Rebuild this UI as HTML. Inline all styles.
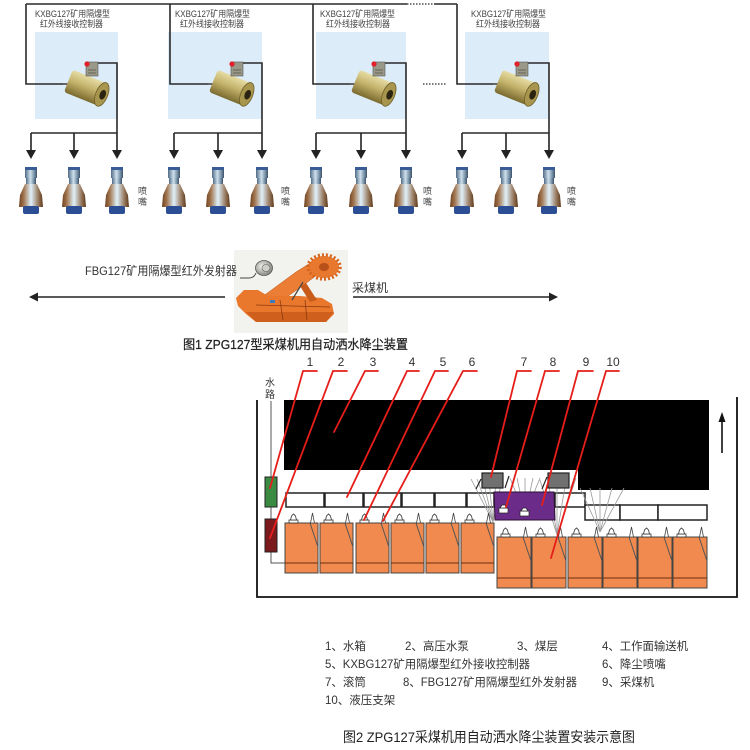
<!DOCTYPE html>
<html>
<head>
<meta charset="utf-8">
<style>
  html,body{margin:0;padding:0;background:#fff;}
  svg{display:block;}
  text{font-family:"Liberation Sans","Noto Sans CJK SC",sans-serif;}
</style>
</head>
<body>
<svg width="750" height="750" viewBox="0 0 750 750" xmlns="http://www.w3.org/2000/svg">
<defs>
  <linearGradient id="gb" x1="0" x2="1" y1="0" y2="0">
    <stop offset="0" stop-color="#4f6b84"/>
    <stop offset="0.45" stop-color="#cfe0ee"/>
    <stop offset="0.75" stop-color="#7d97ad"/>
    <stop offset="1" stop-color="#3c5268"/>
  </linearGradient>
  <linearGradient id="gbody" x1="0" x2="1" y1="0" y2="0">
    <stop offset="0" stop-color="#6e4220"/>
    <stop offset="0.2" stop-color="#a27650"/>
    <stop offset="0.5" stop-color="#dff1fb"/>
    <stop offset="0.8" stop-color="#9a7c62"/>
    <stop offset="1" stop-color="#5e3818"/>
  </linearGradient>
  <linearGradient id="gk" x1="0" x2="0" y1="0" y2="1">
    <stop offset="0" stop-color="#e6dca4"/>
    <stop offset="0.45" stop-color="#c4b36c"/>
    <stop offset="1" stop-color="#7a6a2e"/>
  </linearGradient>
  <radialGradient id="gem" cx="0.4" cy="0.4" r="0.6">
    <stop offset="0" stop-color="#f4f4f0"/>
    <stop offset="1" stop-color="#8a8a84"/>
  </radialGradient>

  <g id="nz">
    <rect x="-6" y="0" width="12" height="4" fill="#3a5c96"/>
    <rect x="-6" y="3" width="12" height="8" fill="url(#gb)"/>
    <rect x="-5" y="11" width="10" height="6" fill="url(#gb)"/>
    <path d="M-6 17 L6 17 L11 28 L12 40 L-12 40 L-11 28 Z" fill="url(#gbody)"/>
    <rect x="-8" y="39" width="16" height="8" rx="2" fill="#2c4e94"/>
  </g>

  <g id="dev">
    <line x1="0" y1="0" x2="6" y2="0" stroke="#666" stroke-width="2"/>
    <g transform="translate(23,4) rotate(22)">
      <rect x="-19" y="-12" width="36" height="24" rx="3" fill="url(#gk)"/>
      <ellipse cx="17" cy="0" rx="6" ry="12.5" fill="#a8954e" stroke="#6e5f28" stroke-width="0.8"/>
      <ellipse cx="18" cy="0" rx="3" ry="5" fill="#2a2410"/>
    </g>
    <rect x="23" y="-22" width="12" height="14" fill="#9a9888" stroke="#555" stroke-width="0.6"/>
    <line x1="25" y1="-14" x2="33" y2="-14" stroke="#5a584a" stroke-width="0.8"/>
    <line x1="25" y1="-11" x2="33" y2="-11" stroke="#5a584a" stroke-width="0.8"/>
    <circle cx="24" cy="-20" r="2.6" fill="#e0202a"/>
  </g>

  <g id="arr">
    <line x1="0" y1="133" x2="0" y2="151" stroke="#222" stroke-width="1.6"/>
    <polygon points="-5,150 5,150 0,159" fill="#222"/>
  </g>

  <g id="supL">
    <rect x="0" y="0" width="33" height="50" fill="#f08a4e" stroke="#444" stroke-width="1"/>
    <line x1="0" y1="40" x2="33" y2="40" stroke="#6a3010" stroke-width="1"/>
    <path d="M25 0 L33 24" fill="none" stroke="#555" stroke-width="1"/>
    <rect x="4" y="-3" width="9" height="3" fill="#fff" stroke="#333" stroke-width="0.8"/>
    <path d="M5.5 -3 L6.5 -7 L8.5 -9 L10.5 -7 L11.5 -3 Z" fill="#fff" stroke="#333" stroke-width="0.8"/>
    <path d="M25.5 0 L27.5 -10 L29.5 0 Z" fill="#fff" stroke="#444" stroke-width="0.8"/>
  </g>
  <g id="supR">
    <rect x="0" y="0" width="34" height="51" fill="#f08a4e" stroke="#444" stroke-width="1"/>
    <line x1="0" y1="41" x2="34" y2="41" stroke="#6a3010" stroke-width="1"/>
    <path d="M26 0 L34 24" fill="none" stroke="#555" stroke-width="1"/>
    <rect x="4" y="-3" width="9" height="3" fill="#fff" stroke="#333" stroke-width="0.8"/>
    <path d="M5.5 -3 L6.5 -7 L8.5 -9 L10.5 -7 L11.5 -3 Z" fill="#fff" stroke="#333" stroke-width="0.8"/>
    <path d="M26.5 0 L28.5 -10 L30.5 0 Z" fill="#fff" stroke="#444" stroke-width="0.8"/>
  </g>
</defs>

<!-- ================= TOP DIAGRAM ================= -->
<g stroke="#2a2a2a" stroke-width="1.6" fill="none">
  <line x1="26" y1="4" x2="407" y2="4"/>
  <line x1="407" y1="4" x2="434" y2="4" stroke-dasharray="1.5 1.5" stroke-width="1.2"/>
  <line x1="434" y1="4" x2="457" y2="4"/>
  <line x1="423" y1="84" x2="446" y2="84" stroke-dasharray="1.5 1.5" stroke-width="1.2"/>
</g>

<!-- panels -->
<rect x="35" y="32" width="83" height="87" fill="#dcedf9"/>
<rect x="168" y="32" width="94" height="87" fill="#dcedf9"/>
<rect x="316" y="32" width="90" height="87" fill="#dcedf9"/>
<rect x="465" y="32" width="84" height="87" fill="#dcedf9"/>

<!-- labels -->
<g fill="#444" font-size="9">
  <text x="35" y="17" textLength="75" lengthAdjust="spacingAndGlyphs">KXBG127矿用隔爆型</text>
  <text x="40" y="27" textLength="63" lengthAdjust="spacingAndGlyphs">红外线接收控制器</text>
  <text x="175" y="17" textLength="75" lengthAdjust="spacingAndGlyphs">KXBG127矿用隔爆型</text>
  <text x="180" y="27" textLength="64" lengthAdjust="spacingAndGlyphs">红外线接收控制器</text>
  <text x="320" y="17" textLength="75" lengthAdjust="spacingAndGlyphs">KXBG127矿用隔爆型</text>
  <text x="326" y="27" textLength="64" lengthAdjust="spacingAndGlyphs">红外线接收控制器</text>
  <text x="471" y="17" textLength="75" lengthAdjust="spacingAndGlyphs">KXBG127矿用隔爆型</text>
  <text x="476" y="27" textLength="64" lengthAdjust="spacingAndGlyphs">红外线接收控制器</text>
</g>

<!-- wiring -->
<g stroke="#2a2a2a" stroke-width="1.6" fill="none">
  <polyline points="26,4 26,84 63,84"/>
  <polyline points="98,63 117,63 117,133"/>
  <line x1="31" y1="133" x2="117" y2="133"/>
  <polyline points="170,4 170,84 208,84"/>
  <polyline points="243,63 262,63 262,133"/>
  <line x1="174" y1="133" x2="262" y2="133"/>
  <polyline points="313,4 313,84 350,84"/>
  <polyline points="385,63 406,63 406,133"/>
  <line x1="316" y1="133" x2="406" y2="133"/>
  <polyline points="457,4 457,84 493,84"/>
  <polyline points="528,63 549,63 549,133"/>
  <line x1="462" y1="133" x2="549" y2="133"/>
</g>

<!-- devices -->
<use href="#dev" transform="translate(63,84)"/>
<use href="#dev" transform="translate(208,84)"/>
<use href="#dev" transform="translate(350,84)"/>
<use href="#dev" transform="translate(493,84)"/>

<!-- arrows -->
<use href="#arr" transform="translate(31,0)"/>
<use href="#arr" transform="translate(74,0)"/>
<use href="#arr" transform="translate(117,0)"/>
<use href="#arr" transform="translate(174,0)"/>
<use href="#arr" transform="translate(218,0)"/>
<use href="#arr" transform="translate(262,0)"/>
<use href="#arr" transform="translate(316,0)"/>
<use href="#arr" transform="translate(361,0)"/>
<use href="#arr" transform="translate(406,0)"/>
<use href="#arr" transform="translate(462,0)"/>
<use href="#arr" transform="translate(506,0)"/>
<use href="#arr" transform="translate(549,0)"/>

<!-- nozzles -->
<use href="#nz" transform="translate(31,167)"/>
<use href="#nz" transform="translate(74,167)"/>
<use href="#nz" transform="translate(117,167)"/>
<use href="#nz" transform="translate(174,167)"/>
<use href="#nz" transform="translate(218,167)"/>
<use href="#nz" transform="translate(262,167)"/>
<use href="#nz" transform="translate(316,167)"/>
<use href="#nz" transform="translate(361,167)"/>
<use href="#nz" transform="translate(406,167)"/>
<use href="#nz" transform="translate(462,167)"/>
<use href="#nz" transform="translate(506,167)"/>
<use href="#nz" transform="translate(549,167)"/>

<g fill="#444" font-size="9">
  <text x="138" y="194">喷</text><text x="138" y="205">嘴</text>
  <text x="281" y="194">喷</text><text x="281" y="205">嘴</text>
  <text x="423" y="194">喷</text><text x="423" y="205">嘴</text>
  <text x="567" y="194">喷</text><text x="567" y="205">嘴</text>
</g>

<!-- ================= MIDDLE ================= -->
<rect x="234" y="250" width="114" height="83" fill="#f2f2ee"/>

<g stroke="#222" stroke-width="1.6">
  <line x1="36" y1="297" x2="225" y2="297"/>
  <line x1="353" y1="297" x2="551" y2="297"/>
</g>
<polygon points="29,297 38,292.5 38,301.5" fill="#222"/>
<polygon points="558,297 549,292.5 549,301.5" fill="#222"/>

<text x="85" y="275" font-size="12" fill="#333" textLength="152" lengthAdjust="spacingAndGlyphs">FBG127矿用隔爆型红外发射器</text>
<text x="352" y="292" font-size="12" fill="#333">采煤机</text>

<!-- shearer picture -->
<path d="M240 278 L249 278 Q254 278 256 273" fill="none" stroke="#444" stroke-width="1"/>
<ellipse cx="264" cy="268" rx="8.5" ry="7.5" fill="url(#gem)" stroke="#555" stroke-width="0.8"/>
<ellipse cx="266" cy="268" rx="4" ry="3.5" fill="#cfcfc8" stroke="#666" stroke-width="0.6"/>
<g>
  <!-- ranging arm -->
  <polygon points="262,297 296,272 312,262 321,272 305,284 284,299" fill="#ec7d34" stroke="#b85014" stroke-width="0.5"/>
  <!-- drum -->
  <ellipse cx="324" cy="267" rx="15" ry="11" fill="#e8782e"/>
  <ellipse cx="324" cy="267" rx="16" ry="12" fill="none" stroke="#d6651e" stroke-width="3.5" stroke-dasharray="2 2"/>
  <ellipse cx="324" cy="267" rx="5" ry="4" fill="#b8501a"/>
  <!-- body -->
  <polygon points="236,298 244,290 258,290 268,296 300,296 322,298 332,304 334,314 326,322 256,322 246,314 238,306" fill="#e9772c"/>
  <polygon points="246,312 334,312 326,322 256,322" fill="#cf5f1c"/>
  <polygon points="300,286 306,283 317,300 310,302" fill="#c85a1a"/>
  <line x1="292" y1="300" x2="303" y2="282" stroke="#444" stroke-width="1.2"/>
  <line x1="256" y1="305" x2="330" y2="307" stroke="#8a3a10" stroke-width="0.8"/>
  <line x1="280" y1="300" x2="283" y2="320" stroke="#8a3a10" stroke-width="0.8"/>
  <line x1="305" y1="300" x2="307" y2="320" stroke="#8a3a10" stroke-width="0.8"/>
  <rect x="270" y="300" width="5" height="3" fill="#3a7ac0"/>
</g>

<text x="183" y="349" font-size="13" fill="#222" stroke="#222" stroke-width="0.25" textLength="225" lengthAdjust="spacingAndGlyphs">图1 ZPG127型采煤机用自动洒水降尘装置</text>

<!-- ================= BOTTOM DIAGRAM ================= -->
<g font-size="12" fill="#333" text-anchor="middle">
  <text x="310" y="366">1</text>
  <text x="341" y="366">2</text>
  <text x="373" y="366">3</text>
  <text x="412" y="366">4</text>
  <text x="443" y="366">5</text>
  <text x="472" y="366">6</text>
  <text x="524" y="366">7</text>
  <text x="553" y="366">8</text>
  <text x="586" y="366">9</text>
  <text x="613" y="366">10</text>
</g>

<text x="265" y="386" font-size="10" fill="#333">水</text>
<text x="265" y="398" font-size="10" fill="#333">路</text>
<g stroke="#555" stroke-width="1" fill="none">
  <line x1="271" y1="401" x2="271" y2="477"/>
  <line x1="271" y1="507" x2="271" y2="519"/>
  <polyline points="271,552 271,563 290,563"/>
</g>
<rect x="265" y="477" width="12" height="30" fill="#3b8a42" stroke="#222" stroke-width="1"/>
<rect x="265" y="519" width="12" height="33" fill="#7a1a1c" stroke="#222" stroke-width="1"/>

<g stroke="#111" stroke-width="1.8" fill="none">
  <polyline points="257,400 257,597 737,597 737,397"/>
</g>

<polygon points="284,400 709,400 709,490 578,490 578,470 284,470" fill="#000"/>

<line x1="722" y1="420" x2="722" y2="453" stroke="#111" stroke-width="1.6"/>
<polygon points="718.5,422 725.5,422 722,412" fill="#111"/>

<g fill="#fff" stroke="#222" stroke-width="1.5">
  <rect x="286" y="493" width="38" height="14"/>
  <rect x="325" y="493" width="38" height="14"/>
  <rect x="364" y="493" width="37" height="14"/>
  <rect x="402" y="493" width="32" height="14"/>
  <rect x="435" y="493" width="31" height="14"/>
  <rect x="467" y="493" width="27" height="14"/>
  <rect x="555" y="493" width="30" height="14"/>
  <rect x="585" y="505" width="35" height="15"/>
  <rect x="620" y="505" width="38" height="15"/>
  <rect x="658" y="505" width="49" height="15"/>
</g>

<g stroke="#9a9a9a" stroke-width="0.8" fill="none">
  <line x1="493" y1="522" x2="471" y2="479"/>
  <line x1="493" y1="522" x2="477" y2="479"/>
  <line x1="493" y1="522" x2="483" y2="480"/>
  <line x1="493" y1="522" x2="489" y2="480"/>
  <line x1="493" y1="522" x2="496" y2="480"/>
  <line x1="493" y1="522" x2="502" y2="480"/>
  <line x1="525" y1="515" x2="510" y2="478"/>
  <line x1="525" y1="515" x2="517" y2="478"/>
  <line x1="525" y1="515" x2="525" y2="478"/>
  <line x1="525" y1="515" x2="533" y2="478"/>
  <line x1="525" y1="515" x2="540" y2="478"/>
  <line x1="557" y1="535" x2="540" y2="480"/>
  <line x1="557" y1="535" x2="548" y2="480"/>
  <line x1="557" y1="535" x2="557" y2="480"/>
  <line x1="557" y1="535" x2="566" y2="480"/>
  <line x1="557" y1="535" x2="576" y2="478"/>
  <line x1="600" y1="532" x2="580" y2="488"/>
  <line x1="600" y1="532" x2="590" y2="488"/>
  <line x1="600" y1="532" x2="600" y2="488"/>
  <line x1="600" y1="532" x2="612" y2="488"/>
  <line x1="600" y1="532" x2="624" y2="488"/>
</g>

<polygon points="494,492 554,492 555,520 495,520" fill="#6a2c88" stroke="#2a1030" stroke-width="1"/>
<g fill="#fff" stroke="#222" stroke-width="0.7">
  <rect x="499" y="508" width="9" height="5"/>
  <path d="M500 508 L502 505 L505 505 L507 508 Z"/>
  <rect x="520" y="511" width="9" height="5"/>
  <path d="M521 511 L523 508 L526 508 L528 511 Z"/>
</g>

<rect x="482" y="473" width="21" height="15" fill="#707070" stroke="#222" stroke-width="1.2"/>
<rect x="548" y="473" width="21" height="15" fill="#707070" stroke="#222" stroke-width="1.2"/>
<g stroke="#222" stroke-width="1.2">
  <line x1="476" y1="489" x2="481" y2="479"/>
  <line x1="505" y1="488" x2="509" y2="476"/>
  <line x1="542" y1="489" x2="547" y2="477"/>
  <line x1="571" y1="488" x2="575" y2="477"/>
</g>

<use href="#supL" transform="translate(285,523)"/>
<use href="#supL" transform="translate(320,523)"/>
<use href="#supL" transform="translate(356,523)"/>
<use href="#supL" transform="translate(391,523)"/>
<use href="#supL" transform="translate(426,523)"/>
<use href="#supL" transform="translate(461,523)"/>
<use href="#supR" transform="translate(497,537)"/>
<use href="#supR" transform="translate(532,537)"/>
<use href="#supR" transform="translate(568,537)"/>
<use href="#supR" transform="translate(603,537)"/>
<use href="#supR" transform="translate(638,537)"/>
<use href="#supR" transform="translate(673,537)"/>

<g stroke="#e61e1a" stroke-width="1.8" fill="none" stroke-linecap="round">
  <polyline points="317,371 303,371 270,488"/>
  <polyline points="347,371 333,371 270,538"/>
  <polyline points="378,371 365,371 334,432"/>
  <polyline points="419,371 407,371 347,497"/>
  <polyline points="448,371 435,371 364,520"/>
  <polyline points="477,371 463,371 383,521"/>
  <polyline points="531,371 517,371 491,477"/>
  <polyline points="559,371 545,371 506,507"/>
  <polyline points="593,371 578,371 542,505"/>
  <polyline points="619,371 606,371 551,558"/>
</g>

<g font-size="11.5" fill="#333">
  <text x="325" y="650">1、水箱</text>
  <text x="405" y="650">2、高压水泵</text>
  <text x="517" y="650">3、煤层</text>
  <text x="602" y="650" textLength="86" lengthAdjust="spacingAndGlyphs">4、工作面输送机</text>
  <text x="325" y="668" textLength="205" lengthAdjust="spacingAndGlyphs">5、KXBG127矿用隔爆型红外接收控制器</text>
  <text x="602" y="668">6、降尘喷嘴</text>
  <text x="325" y="686">7、滚筒</text>
  <text x="403" y="686" textLength="174" lengthAdjust="spacingAndGlyphs">8、FBG127矿用隔爆型红外发射器</text>
  <text x="602" y="686">9、采煤机</text>
  <text x="325" y="704">10、液压支架</text>
</g>
<text x="343" y="742" font-size="14" fill="#222" textLength="292" lengthAdjust="spacingAndGlyphs">图2 ZPG127采煤机用自动洒水降尘装置安装示意图</text>
</svg>
</body>
</html>
